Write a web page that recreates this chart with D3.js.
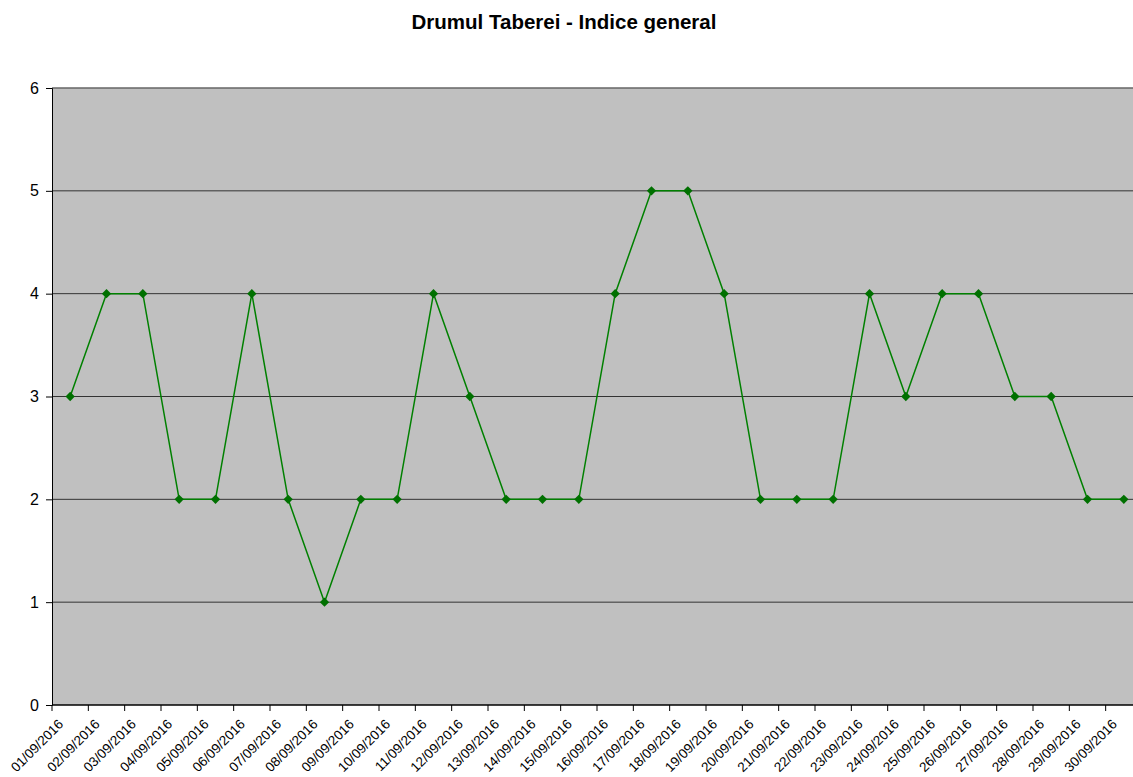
<!DOCTYPE html>
<html><head><meta charset="utf-8">
<script src="https://cdn.jsdelivr.net/npm/d3@7"></script>
<style>body{margin:0;background:#fff}svg{display:block;font-family:"Liberation Sans",Arial,sans-serif}</style>
</head><body>
<svg id="c" width="1133" height="777"></svg>
<script>
const dates = ["01/09/2016","02/09/2016","03/09/2016","04/09/2016","05/09/2016","06/09/2016","07/09/2016","08/09/2016","09/09/2016","10/09/2016","11/09/2016","12/09/2016","13/09/2016","14/09/2016","15/09/2016","16/09/2016","17/09/2016","18/09/2016","19/09/2016","20/09/2016","21/09/2016","22/09/2016","23/09/2016","24/09/2016","25/09/2016","26/09/2016","27/09/2016","28/09/2016","29/09/2016","30/09/2016"];
const values = [3,4,4,2,2,4,2,1,2,2,4,3,2,2,2,4,5,5,4,2,2,2,4,3,4,4,3,3,2,2];
const yTicks = [0,1,2,3,4,5,6];
const title = "Drumul Taberei - Indice general";

const svg = d3.select("#c");
const L = 52, R = 1142, T = 88, B = 705;
const x = d3.scaleBand().domain(dates).range([L, R]);
const y = d3.scaleLinear().domain([0, 6]).range([B, T]);

svg.append("rect").attr("x", L).attr("y", T).attr("width", R - L).attr("height", B - T).attr("fill", "#c0c0c0");

// gridlines
svg.append("g").selectAll("line").data(yTicks.filter(d => d > 0 && d < 6)).join("line")
  .attr("x1", L).attr("x2", R).attr("y1", d => y(d)).attr("y2", d => y(d))
  .attr("stroke", "#333").attr("stroke-width", 1);
// top border
svg.append("line").attr("x1", L).attr("x2", R).attr("y1", T).attr("y2", T).attr("stroke", "#666").attr("stroke-width", 1.5);

// y axis
const ya = svg.append("g").attr("transform", `translate(${L},0)`)
  .call(d3.axisLeft(y).tickValues(yTicks).tickSize(6).tickPadding(7).tickFormat(d3.format("d")));
ya.attr("font-size", null).attr("font-family", null);
ya.select(".domain").attr("stroke", "#000");
ya.selectAll(".tick line").attr("stroke", "#000");
ya.selectAll("text").style("font-size", "16px").attr("fill", "#000").style("font-family", "'Liberation Sans', Arial, sans-serif");

// x axis: ticks at category boundaries
const xa = svg.append("g").attr("transform", `translate(0,${B})`);
xa.append("line").attr("x1", L).attr("x2", R).attr("y1", 0).attr("y2", 0).attr("stroke", "#000").attr("stroke-width", 1.5);
xa.selectAll("line.tk").data(dates).join("line").attr("class", "tk")
  .attr("x1", d => x(d)).attr("x2", d => x(d)).attr("y1", 0).attr("y2", 6).attr("stroke", "#000");
xa.selectAll("text").data(dates).join("text")
  .attr("transform", d => `translate(${x(d) + x.bandwidth() / 2 - 6},${20}) rotate(-45)`)
  .attr("text-anchor", "end").style("font-size", "13.5px").attr("fill", "#000")
  .text(d => d);

// line
const cx = d => x(d) + x.bandwidth() / 2;
svg.append("path").datum(values)
  .attr("d", d3.line().x((d, i) => cx(dates[i])).y(d => y(d)))
  .attr("fill", "none").attr("stroke", "#008000").attr("stroke-width", 1.5);
svg.append("g").selectAll("path").data(values).join("path")
  .attr("d", d3.symbol().type(d3.symbolDiamond2 || d3.symbolDiamond).size(55))
  .attr("transform", (d, i) => `translate(${cx(dates[i])},${y(d)})`)
  .attr("fill", "#007000");

svg.append("text").attr("x", 564).attr("y", 29).attr("text-anchor", "middle")
  .attr("font-weight", "bold").style("font-size", "20.5px").text(title);
</script>
</body></html>
